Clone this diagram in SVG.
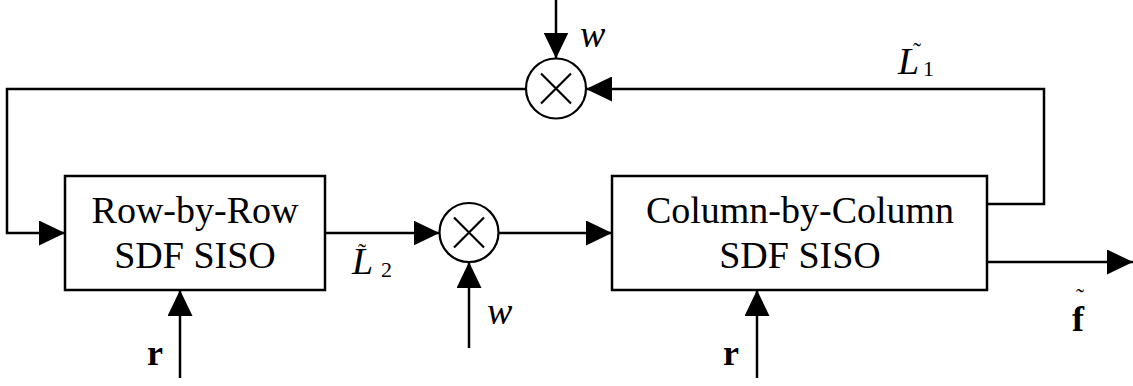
<svg xmlns="http://www.w3.org/2000/svg" width="1133" height="386" viewBox="0 0 1133 386" font-family="'Liberation Serif', 'Times New Roman', serif">
  <style>
    .box { fill: #fff; stroke: #000; stroke-width: 2.5; }
    .mul { fill: #fff; stroke: #000; stroke-width: 2.2; }
    .cross { stroke: #000; stroke-width: 2.2; }
    .wire { fill: none; stroke: #000; stroke-width: 2.5; }
    .arrow { marker-end: url(#head); }
    text { font-family: 'Liberation Serif', 'Times New Roman', serif; fill: #000; }
    .blk { font-size: 38px; text-anchor: middle; }
    .it { font-style: italic; font-size: 38px; }
    .bf { font-weight: bold; font-size: 36px; }
    .sub { font-size: 22px; }
    .tilde { font-size: 24px; }
  </style>
  <defs>
    <marker id="head" viewBox="0 0 26 25" refX="26" refY="12.5" markerWidth="26" markerHeight="25" markerUnits="userSpaceOnUse" orient="auto">
      <path d="M0,0 L26,12.5 L0,25 Z" fill="#000"/>
    </marker>
  </defs>

  <!-- connectors -->
  <g id="connectors">
    <path class="wire arrow" d="M556,0 V58.5"/>
    <path class="wire arrow" d="M987,204 H1044 V89 H586"/>
    <path class="wire arrow" d="M526,89 H7 V233 H65"/>
    <path class="wire arrow" d="M325,233 H439.5"/>
    <path class="wire arrow" d="M498.5,233 H612"/>
    <path class="wire arrow" d="M469,348 V262"/>
    <path class="wire arrow" d="M180,378 V290"/>
    <path class="wire arrow" d="M757,378 V290"/>
    <path class="wire arrow" d="M987,262 H1133"/>
  </g>

  <!-- row decoder -->
  <g id="row-siso">
    <rect class="box" x="65" y="176" width="260" height="114"/>
    <text class="blk" x="195" y="223">Row-by-Row</text>
    <text class="blk" x="195" y="268">SDF SISO</text>
  </g>

  <!-- column decoder -->
  <g id="column-siso">
    <rect class="box" x="612" y="176" width="375" height="114"/>
    <text class="blk" x="800" y="223">Column-by-Column</text>
    <text class="blk" x="800" y="268">SDF SISO</text>
  </g>

  <!-- weighting multipliers -->
  <g id="mult-top">
    <circle class="mul" cx="556" cy="88.5" r="30"/>
    <path class="cross" d="M541,73.5 L571,103.5 M571,73.5 L541,103.5"/>
  </g>
  <g id="mult-mid">
    <circle class="mul" cx="469" cy="232.5" r="29.5"/>
    <path class="cross" d="M454,217.5 L484,247.5 M484,217.5 L454,247.5"/>
  </g>

  <!-- signal labels -->
  <g id="labels">
    <text class="it" x="580" y="47">w</text>
    <text class="it" x="487" y="324">w</text>

    <text class="tilde" x="913" y="59">˜</text>
    <text class="it" x="898" y="74">L</text>
    <text class="sub" x="923" y="76">1</text>

    <text class="tilde" x="358" y="260">˜</text>
    <text class="it" x="352" y="274">L</text>
    <text class="sub" x="381" y="277">2</text>

    <text class="bf" x="147" y="365">r</text>
    <text class="bf" x="723" y="365">r</text>

    <text class="tilde" x="1076" y="305">˜</text>
    <text class="bf" x="1072" y="331">f</text>
  </g>
</svg>
